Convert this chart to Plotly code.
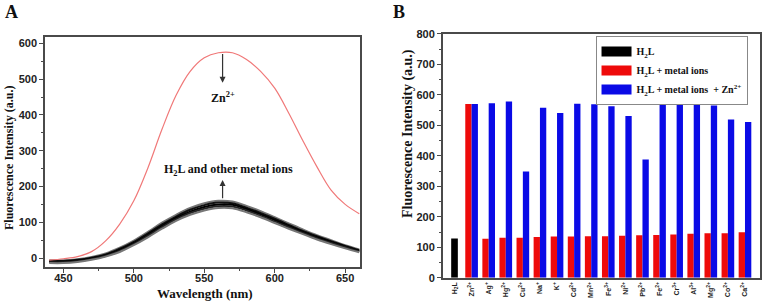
import plotly.graph_objects as go

# ---------------- Panel A data ----------------
wavelength = [440, 450, 460, 470, 480, 490, 500, 510, 520, 530, 540, 550,
              560, 570, 580, 590, 600, 610, 620, 630, 640, 650, 660]
zn_curve = [-6, -2, 4, 18, 48, 95, 160, 252, 360, 455, 522, 560,
            574, 574, 555, 522, 475, 405, 328, 255, 190, 150, 124]
other_upper = [-6, -6, -3, 3, 13, 29, 49, 73, 99, 121, 140, 153,
               160, 158, 146, 131, 114, 97, 80, 64, 50, 36, 24]
other_high = [-8, -8, -5, 1, 10, 26, 45, 69, 94, 116, 135, 148,
              155, 153, 141, 126, 110, 93, 76, 61, 47, 34, 22]
other_mid = [-10, -10, -7, -1, 8, 23, 42, 65, 90, 112, 130, 143,
             150, 149, 137, 122, 106, 89, 73, 58, 45, 32, 20]
other_low = [-12, -12, -9, -3, 6, 20, 39, 62, 86, 108, 126, 138,
             145, 144, 133, 118, 102, 86, 70, 55, 42, 30, 18]
other_lower = [-14, -14, -11, -5, 4, 17, 36, 58, 82, 104, 121, 133,
               140, 139, 128, 114, 98, 82, 67, 52, 39, 27, 16]

# ---------------- Panel B data ----------------
ions = ["H<sub>2</sub>L", "Zn<sup>2+</sup>", "Ag<sup>+</sup>", "Hg<sup>2+</sup>",
        "Cu<sup>2+</sup>", "Na<sup>+</sup>", "K<sup>+</sup>", "Cd<sup>2+</sup>",
        "Mn<sup>2+</sup>", "Fe<sup>3+</sup>", "Ni<sup>2+</sup>", "Pb<sup>2+</sup>",
        "Fe<sup>2+</sup>", "Cr<sup>3+</sup>", "Al<sup>3+</sup>", "Mg<sup>2+</sup>",
        "Co<sup>2+</sup>", "Ca<sup>2+</sup>"]
h2l_only = [129] + [None] * 17
with_metal = [None, 570, 128, 131, 131, 134, 135, 135, 136, 136, 138, 139,
              140, 142, 144, 146, 146, 149]
with_metal_zn = [None, 570, 573, 578, 349, 558, 541, 571, 569, 563, 531, 388,
                 575, 583, 577, 565, 519, 511]

SERIF = "Liberation Serif"
SANS = "Liberation Sans"
AX = "#4a4a4a"

fig = go.Figure()

# Panel A lines
other_sets = [(other_upper, "#777777"), (other_high, "#111111"), (other_mid, "#000000"),
              (other_low, "#222222"), (other_lower, "#777777")]
for vals, col in other_sets:
    fig.add_trace(go.Scatter(x=wavelength, y=vals, mode="lines", line=dict(color=col, width=2, shape="spline"),
                             showlegend=False, xaxis="x", yaxis="y", hoverinfo="skip"))
fig.add_trace(go.Scatter(x=wavelength, y=zn_curve, mode="lines",
                         line=dict(color="#f07878", width=1.2, shape="spline"),
                         showlegend=False, xaxis="x", yaxis="y"))

# Panel B bars
W = 0.37
fig.add_trace(go.Bar(x=ions, y=h2l_only, width=0.39, offset=-0.195, marker=dict(color="#000000", line=dict(width=0)),
                     showlegend=False, xaxis="x2", yaxis="y2"))
fig.add_trace(go.Bar(x=ions, y=with_metal, width=W, offset=-W, marker=dict(color="#ee0a0a", line=dict(width=0)),
                     showlegend=False, xaxis="x2", yaxis="y2"))
fig.add_trace(go.Bar(x=ions, y=with_metal_zn, width=W, offset=0, marker=dict(color="#0a0ae6", line=dict(width=0)),
                     showlegend=False, xaxis="x2", yaxis="y2"))

# legend entries (wide swatches)
for name, col in [("H<sub>2</sub>L", "#000000"), ("H<sub>2</sub>L + metal ions", "#ee0a0a"),
                  ("H<sub>2</sub>L + metal ions  + Zn<sup>2+</sup>", "#0a0ae6")]:
    fig.add_trace(go.Scatter(x=[None], y=[None], mode="lines", name=name,
                             line=dict(color=col, width=10), xaxis="x2", yaxis="y2"))

axis_common = dict(showline=True, mirror=True, linecolor=AX, linewidth=1.5, showgrid=False,
                   zeroline=False, ticks="outside", ticklen=4, tickwidth=1.2, tickcolor=AX,
                   automargin=False, tickfont=dict(family=SANS, size=11, color="#222", weight="bold"))

fig.update_layout(
    width=762, height=304,
    margin=dict(l=0, r=0, t=0, b=0, pad=0, autoexpand=False),
    paper_bgcolor="white", plot_bgcolor="white",
    barmode="overlay",
    xaxis=dict(domain=[0.0591, 0.4724], range=[437, 660.5], tickvals=[450, 500, 550, 600, 650],
               minor=dict(ticks="outside", ticklen=2, tickcolor=AX, dtick=25, tick0=425),
               ticklabelstandoff=-4, anchor="y", **axis_common),
    yaxis=dict(domain=[0.1217, 0.8783], range=[-25, 618], tickvals=[0, 100, 200, 300, 400, 500, 600],
               minor=dict(ticks="outside", ticklen=2, tickcolor=AX, dtick=50, tick0=0),
               anchor="x", **axis_common),
    xaxis2=dict(domain=[0.581, 0.9974], range=[-0.69, 17.88], type="category",
                showline=True, mirror=True, linecolor=AX, linewidth=1.5, showgrid=False, zeroline=False,
                ticks="", automargin=False, tickangle=-90,
                tickfont=dict(family=SANS, size=7, color="#222", weight="bold"), anchor="y2"),
    yaxis2=dict(domain=[0.0865, 0.8882], range=[0, 800], tickvals=[0, 100, 200, 300, 400, 500, 600, 700, 800],
                minor=dict(ticks="outside", ticklen=2, tickcolor=AX, dtick=50, tick0=0),
                anchor="x2", **axis_common),
    legend=dict(x=0.981, y=1 - 36 / 304, xanchor="right", yanchor="top", bgcolor="white",
                bordercolor="#888", borderwidth=1, font=dict(family=SERIF, size=10, color="#111", weight="bold"),
                itemwidth=30, tracegroupgap=0),
    showlegend=True,
)

def paper_text(text, px, py, size, angle=0, family=SERIF):
    return dict(text=text, x=px / 762, y=1 - py / 304, xref="paper", yref="paper", showarrow=False,
                xanchor="center", yanchor="middle", textangle=angle,
                font=dict(family=family, size=size, color="#111", weight="bold"))

ann = [
    paper_text("A", 11, 12, 18),
    paper_text("B", 399, 12, 18),
    paper_text("Fluorescence Intensity (a.u.)", 9, 158, 12, -90),
    paper_text("Wavelength (nm)", 205, 293, 13),
    paper_text("Fluorescence Intensity (a.u.)", 408, 134, 14, -90),
]
# arrows & labels in panel A
ann.append(dict(x=563, y=490, ax=563, ay=575, xref="x", yref="y", axref="x", ayref="y", text="",
                showarrow=True, arrowhead=2, arrowsize=1, arrowwidth=1.2, arrowcolor="#333"))
ann.append(dict(x=563, y=449, xref="x", yref="y", text="Zn<sup>2+</sup>", showarrow=False,
                xanchor="center", yanchor="middle",
                font=dict(family=SERIF, size=12, color="#111", weight="bold")))
ann.append(dict(x=563, y=218, ax=563, ay=163, xref="x", yref="y", axref="x", ayref="y", text="",
                showarrow=True, arrowhead=2, arrowsize=1, arrowwidth=1.2, arrowcolor="#333"))
ann.append(dict(x=567, y=246, xref="x", yref="y", text="H<sub>2</sub>L and other metal ions", showarrow=False,
                xanchor="center", yanchor="middle",
                font=dict(family=SERIF, size=12, color="#111", weight="bold")))
fig.update_layout(annotations=ann)

fig.write_html("out.html", config={"displayModeBar": False},
               post_script="document.body.style.margin='0px';document.body.style.padding='0px';")
